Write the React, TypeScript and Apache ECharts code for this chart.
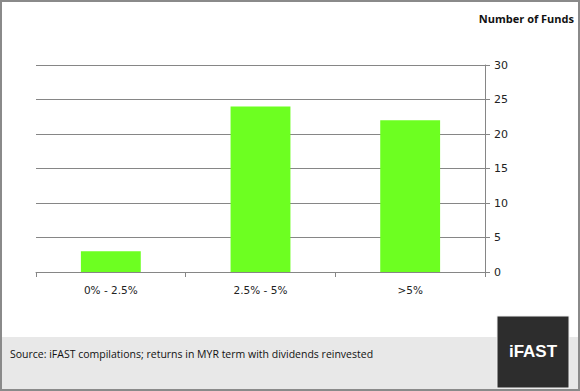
import React, { useEffect, useRef } from "react";
import * as echarts from "echarts";

const categories = ["0% - 2.5%", "2.5% - 5%", ">5%"];
const fundCounts = [3, 24, 22];
const yTicks = { min: 0, max: 30, interval: 5 };
const axisTitle = "Number of Funds";
const sourceText = "Source: iFAST compilations; returns in MYR term with dividends reinvested";
const logoText = "iFAST";

export default function App() {
  const ref = useRef<HTMLDivElement>(null);
  useEffect(() => {
    if (!ref.current) return;
    const chart = echarts.init(ref.current, null, { renderer: "svg" });
    chart.setOption({
      animation: false,
      backgroundColor: "#ffffff",
      grid: { left: 36, right: 95, top: 65, height: 207 },
      xAxis: {
        type: "category",
        data: categories,
        axisLine: { lineStyle: { color: "#868686", width: 1 } },
        axisTick: { show: true, length: 5, lineStyle: { color: "#868686" }, alignWithLabel: false },
        axisLabel: { color: "#222", fontFamily: "DejaVu Sans", fontSize: 10.5, margin: 12 },
      },
      yAxis: {
        type: "value",
        position: "right",
        min: yTicks.min,
        max: yTicks.max,
        interval: yTicks.interval,
        axisLine: { show: true, lineStyle: { color: "#868686" } },
        axisTick: { show: true, length: 5, lineStyle: { color: "#868686" } },
        axisLabel: { color: "#222", fontFamily: "DejaVu Sans", fontSize: 11, margin: 9 },
        splitLine: { lineStyle: { color: "#868686", width: 1 } },
      },
      series: [
        {
          type: "bar",
          data: fundCounts,
          barWidth: "40%",
          itemStyle: { color: "#6dff21" },
        },
      ],
      graphic: [
        {
          type: "text",
          right: 6,
          top: 13,
          style: { text: axisTitle, font: "bold 11px 'Open Sans', sans-serif", fill: "#111" },
        },
        {
          type: "rect",
          shape: { x: 1, y: 337, width: 578, height: 53 },
          style: { fill: "#e8e8e8" },
        },
        {
          type: "text",
          left: 10,
          top: 348,
          style: { text: sourceText, font: "10.5px 'Open Sans', sans-serif", fill: "#111" },
        },
        {
          type: "rect",
          shape: { x: 497, y: 316, width: 72, height: 72 },
          style: { fill: "#2d2d2d", stroke: "#f0f0f0", lineWidth: 1 },
        },
        {
          type: "text",
          x: 533,
          y: 351,
          style: {
            text: logoText,
            font: "bold 17px 'Liberation Sans', Arial, sans-serif",
            fill: "#ffffff",
            align: "center",
            verticalAlign: "middle",
          },
        },
        {
          type: "rect",
          shape: { x: 1, y: 1, width: 578, height: 389 },
          style: { fill: "none", stroke: "#8a8a8a", lineWidth: 2 },
        },
      ],
    });
    return () => chart.dispose();
  }, []);
  return (
    <div
      ref={ref}
      style={{ position: "fixed", left: 0, top: 0, width: 580, height: 391 }}
    />
  );
}
